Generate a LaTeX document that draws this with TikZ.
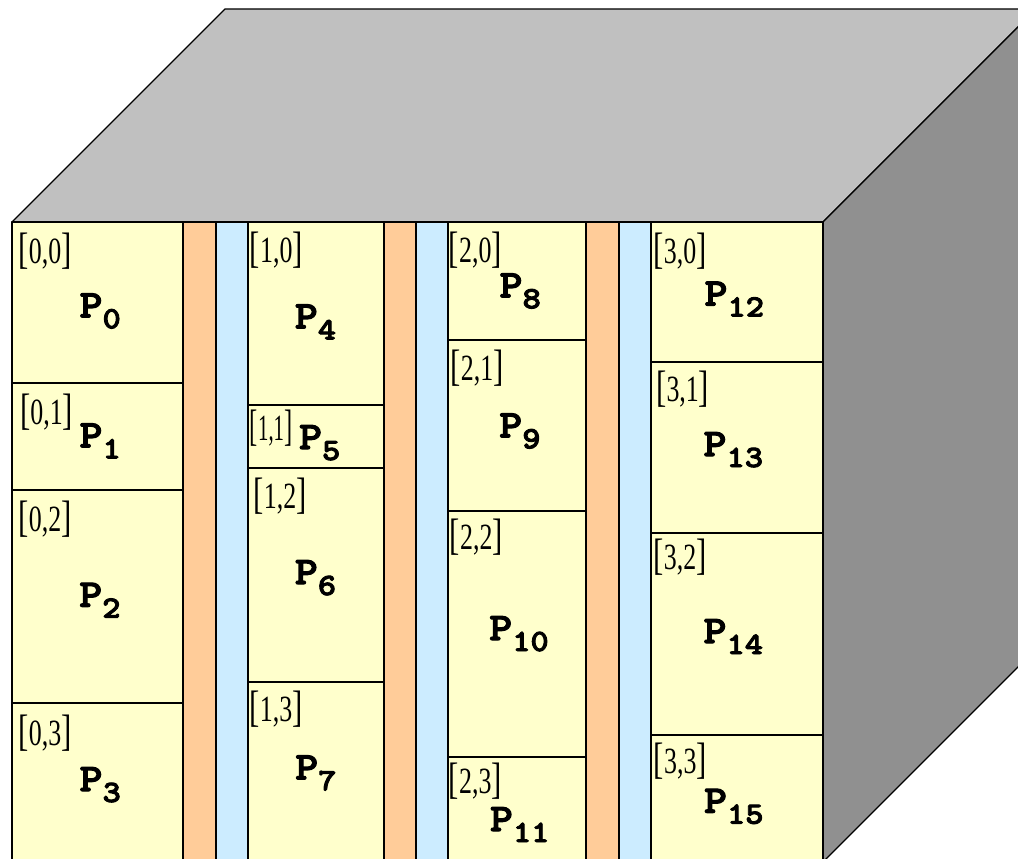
\documentclass[tikz,border=0pt]{standalone}
\usepackage{fontspec}
\newfontfamily\lblfont[FakeStretch=0.7]{Liberation Serif}
\newfontfamily\pfont[FakeStretch=1.12,FakeBold=3]{lmmonolt10-bold.otf}
\definecolor{cellY}{HTML}{FFFFCC}
\definecolor{stripO}{HTML}{FFCC99}
\definecolor{stripB}{HTML}{CCECFF}
\definecolor{topG}{HTML}{C0C0C0}
\definecolor{sideG}{HTML}{909090}
\newcommand\idxlab[2]{{\lblfont\fontsize{44}{44}\selectfont[\fontsize{37}{37}\selectfont#1,#2\fontsize{44}{44}\selectfont]}}
\newcommand\plab[1]{{\pfont\fontsize{39}{39}\selectfont P\raisebox{-11pt}{\fontsize{31}{31}\selectfont#1}}}
\begin{document}
\begin{tikzpicture}[x=1pt,y=-1pt,line width=1.3pt,line join=round,
  face/.style={draw=black},
  cellbox/.style={draw=black,fill=cellY},
  ostrip/.style={draw=black,fill=stripO},
  bstrip/.style={draw=black,fill=stripB},
  idx/.style={inner sep=0pt,anchor=base west},
  plabel/.style={inner sep=0pt,anchor=base west}]
\useasboundingbox (0,0) rectangle (1018,859);
\clip (0,0) rectangle (1018,859);
% top and right faces
\filldraw[face,fill=topG] (12,222) -- (225,9) -- (1036,9) -- (823,222) -- cycle;
\filldraw[face,fill=sideG] (823,222) -- (1036,9) -- (1036,649) -- (823,862) -- cycle;
% strips
\filldraw[ostrip] (183,222) rectangle (216,862);
\filldraw[bstrip] (216,222) rectangle (248,862);
\filldraw[ostrip] (384,222) rectangle (416,862);
\filldraw[bstrip] (416,222) rectangle (448,862);
\filldraw[ostrip] (586,222) rectangle (619,862);
\filldraw[bstrip] (619,222) rectangle (651,862);
% column 0
\filldraw[cellbox] (12,222) rectangle (183,383);
\filldraw[cellbox] (12,383) rectangle (183,490);
\filldraw[cellbox] (12,490) rectangle (183,703);
\filldraw[cellbox] (12,703) rectangle (183,862);
% column 1
\filldraw[cellbox] (248,222) rectangle (384,405);
\filldraw[cellbox] (248,405) rectangle (384,468);
\filldraw[cellbox] (248,468) rectangle (384,682);
\filldraw[cellbox] (248,682) rectangle (384,862);
% column 2
\filldraw[cellbox] (448,222) rectangle (586,340);
\filldraw[cellbox] (448,340) rectangle (586,511);
\filldraw[cellbox] (448,511) rectangle (586,757);
\filldraw[cellbox] (448,757) rectangle (586,862);
% column 3
\filldraw[cellbox] (651,222) rectangle (823,362);
\filldraw[cellbox] (651,362) rectangle (823,533);
\filldraw[cellbox] (651,533) rectangle (823,735);
\filldraw[cellbox] (651,735) rectangle (823,862);
% index labels
\node[idx] (l00) at (18,263.2) {\idxlab00};
\node[idx] (l01) at (19.5,424.2) {\idxlab01};
\node[idx] (l02) at (18,531.8) {\idxlab02};
\node[idx] (l03) at (18,745.2) {\idxlab03};
\node[idx] (l10) at (249.3,262.5) {\idxlab10};
\node[idx] (l11) at (249.3,440.2) {\scalebox{0.8}[1]{\idxlab11}};
\node[idx] (l12) at (253,508.5) {\idxlab12};
\node[idx] (l13) at (249,721.2) {\idxlab13};
\node[idx] (l20) at (448.3,262.5) {\idxlab20};
\node[idx] (l21) at (450,380.5) {\idxlab21};
\node[idx] (l22) at (449.3,549.2) {\idxlab22};
\node[idx] (l23) at (448.3,793.5) {\idxlab23};
\node[idx] (l30) at (653,263.2) {\idxlab30};
\node[idx] (l31) at (655.6,401.5) {\idxlab31};
\node[idx] (l32) at (653,569.2) {\idxlab32};
\node[idx] (l33) at (653.3,773.2) {\idxlab33};
% processor labels
\node[plabel] (p0) at (79,317.3) {\plab{0}};
\node[plabel] (p1) at (79,447.3) {\plab{1}};
\node[plabel] (p2) at (78.7,606.7) {\plab{2}};
\node[plabel] (p3) at (79,791) {\plab{3}};
\node[plabel] (p4) at (294.3,328.3) {\plab{4}};
\node[plabel] (p5) at (298.5,449) {\plab{5}};
\node[plabel] (p6) at (294.3,584) {\plab{6}};
\node[plabel] (p7) at (294.7,779.3) {\plab{7}};
\node[plabel] (p8) at (499,297.3) {\plab{8}};
\node[plabel] (p9) at (498.7,437.3) {\plab{9}};
\node[plabel] (p10) at (488.7,640) {\plab{10}};
\node[plabel] (p11) at (489.4,831) {\plab{11}};
\node[plabel] (p12) at (704,305.5) {\plab{12}};
\node[plabel] (p13) at (703,456) {\plab{13}};
\node[plabel] (p14) at (703,643) {\plab{14}};
\node[plabel] (p15) at (703.5,812.7) {\plab{15}};
\end{tikzpicture}
\end{document}
